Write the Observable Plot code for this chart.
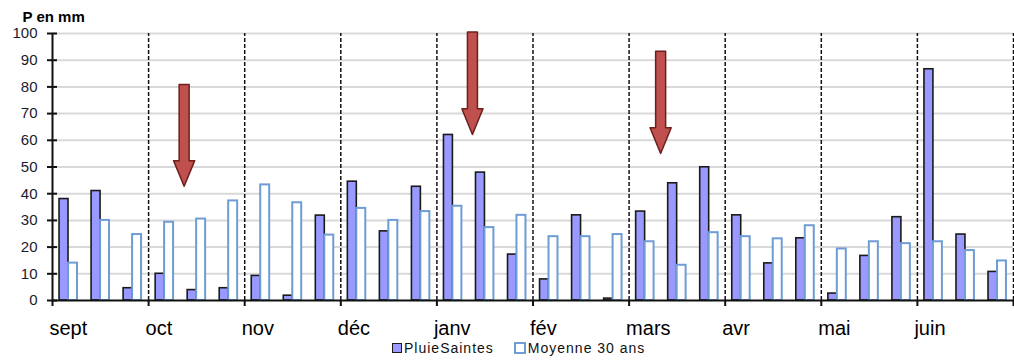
<!DOCTYPE html>
<html>
<head>
<meta charset="utf-8">
<script src="https://cdn.jsdelivr.net/npm/d3@7"></script>
<script src="https://cdn.jsdelivr.net/npm/@observablehq/plot@0.6"></script>
<style>
  body { margin: 0; background: #fff; font-family: "Liberation Sans", Arial, sans-serif; }
  #wrap { position: relative; width: 1014px; height: 364px; }
  #legend { position: absolute; left: 392px; top: 340px; display: flex; align-items: center; font-size: 14px; letter-spacing: 1px; color: #111; }
  .sw { width: 8px; height: 8px; display: inline-block; margin-right: 2px; }
</style>
</head>
<body>
<div id="wrap"></div>
<script>
const months = ["sept","oct","nov","déc","janv","fév","mars","avr","mai","juin"];
const pluieSaintes = [38,41,4.6, 10,3.9,4.6, 9.2,1.8,31.8, 44.5,25.9,42.6, 62,47.9,17.2, 7.9,31.9,0.7, 33.3,43.9,49.9, 31.9,13.9,23.3, 2.6,16.7,31.2, 86.6,24.7,10.7];
const moyenne30 = [14,30,24.7, 29.3,30.5,37.3, 43.3,36.6,24.5, 34.5,30,33.3, 35.3,27.3,31.9, 23.9,23.9,24.7, 22,13.2,25.4, 23.9,23.1,28, 19.3,22,21.3, 22,18.7,14.8];
const yTicks = [0,10,20,30,40,50,60,70,80,90,100];
const arrowX = [4.125, 13.125, 19.0];
const arrowTop = [80.7, 100.4, 93.2];
const arrowTip = [42.6, 62, 54.9];

const dekads = d3.range(pluieSaintes.length).map(i => ({i, pluie: pluieSaintes[i], moy: moyenne30[i]}));
const monthStarts = months.map((m, k) => ({m, x: k * 3}));
const bounds = d3.range(1, months.length + 1).map(k => k * 3);

const arrowPts = [];
arrowX.forEach((c, k) => {
  const head = arrowTip[k] + 9.6, w = 0.156, hw = 0.33;
  arrowPts.push({k, y: arrowTop[k], x1: c - w, x2: c + w});
  arrowPts.push({k, y: head, x1: c - w, x2: c + w});
  arrowPts.push({k, y: head, x1: c - hw, x2: c + hw});
  arrowPts.push({k, y: arrowTip[k], x1: c, x2: c});
});

const chart = Plot.plot({
  width: 1014,
  height: 341,
  marginLeft: 52,
  marginRight: 1,
  marginTop: 33,
  marginBottom: 41,
  style: {fontFamily: "Liberation Sans, Arial, sans-serif", background: "#fff"},
  x: {type: "linear", domain: [0, 30], axis: null},
  y: {domain: [0, 100], axis: null},
  marks: [
    Plot.ruleY(yTicks.filter(d => d > 0), {stroke: "#d9d9d9", strokeWidth: 2}),
    Plot.ruleX(bounds, {y1: 0, y2: 100, stroke: "#111", strokeWidth: 1.5, strokeDasharray: "4,2"}),
    Plot.rectY(dekads, {x1: d => d.i + 0.22, x2: d => d.i + 0.5, y: "pluie", fill: "#9999FF", stroke: "#1a1a1a", strokeWidth: 1.6}),
    Plot.rectY(dekads, {x1: d => d.i + 0.5, x2: d => d.i + 0.78, y: "moy", fill: "#fff", stroke: "#6E9CD4", strokeWidth: 2}),
    Plot.axisY({ticks: yTicks, tickSize: 0, tickPadding: 15, fontSize: 15, fill: "#1a1a2e"}),
    Plot.axisY({ticks: yTicks, tickSize: 10, dx: 5, tickFormat: () => "", stroke: "#111", strokeWidth: 2}),
    Plot.axisX({ticks: [0, ...bounds], tickSize: 6, tickFormat: () => "", stroke: "#111", strokeWidth: 2}),
    Plot.ruleX([0], {y1: 0, y2: 100, stroke: "#111", strokeWidth: 2}),
    Plot.ruleY([0], {x1: 0, x2: 30, stroke: "#111", strokeWidth: 2}),
    Plot.text(monthStarts, {x: "x", y: 0, text: "m", dx: -3, dy: 34, textAnchor: "start", lineAnchor: "bottom", fontSize: 20, fill: "#000", fontFamily: "Liberation Sans, Arial, sans-serif"}),
    Plot.areaX(arrowPts, {y: "y", x1: "x1", x2: "x2", z: "k", fill: "#C0504D", stroke: "#6E1F1D", strokeWidth: 1.5}),
    Plot.text(["P en mm"], {frameAnchor: "top-left", dx: -30, dy: -12, lineAnchor: "bottom", textAnchor: "start", fontSize: 15, fontWeight: "bold", fill: "#000"})
  ]
});
const wrap = document.getElementById("wrap");
wrap.appendChild(chart);
const legend = document.createElement("div");
legend.id = "legend";
legend.innerHTML = `<span class="sw" style="background:#9999FF;border:1.5px solid #1a1a1a"></span><span>PluieSaintes</span>
<span style="width:20px"></span><span class="sw" style="background:#fff;border:2px solid #6E9CD4"></span><span>Moyenne 30 ans</span>`;
wrap.appendChild(legend);
</script>
</body>
</html>
